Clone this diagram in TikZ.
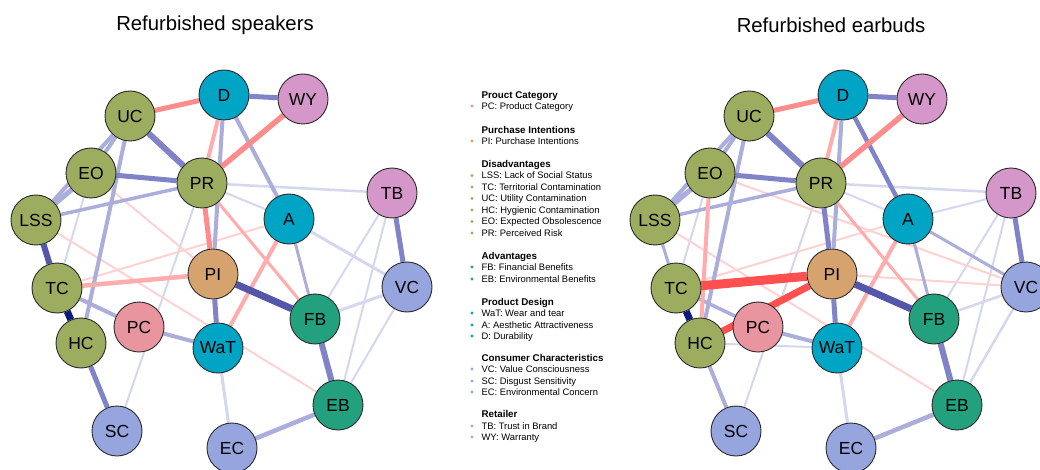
\documentclass[tikz,border=0pt]{standalone}
\usepackage{fontspec}
\setmainfont{Liberation Sans}
\usetikzlibrary{backgrounds}
\definecolor{netInk}{HTML}{2A2A2A}
\definecolor{netDis}{HTML}{9CAD60}
\definecolor{netDes}{HTML}{00A5C6}
\definecolor{netRet}{HTML}{D596C9}
\definecolor{netCon}{HTML}{97A5DF}
\definecolor{netPI}{HTML}{D6A36F}
\definecolor{netPC}{HTML}{E9959F}
\definecolor{netAdv}{HTML}{23A07D}
\definecolor{posNavy}{HTML}{0D1A80}
\definecolor{posDark}{HTML}{5456AA}
\definecolor{posMid}{HTML}{8083C8}
\definecolor{posLight}{HTML}{ABADDB}
\definecolor{posFaint}{HTML}{D5D7EF}
\definecolor{negDark}{HTML}{FF4F4F}
\definecolor{negMid}{HTML}{FF8C8C}
\definecolor{negLight}{HTML}{FFACAC}
\definecolor{negFaint}{HTML}{FFD2D2}
\tikzset{
  every picture/.style={font=\fontsize{9.4}{11}\selectfont, text=black},
  net node/.style={circle, draw=netInk, line width=0.9pt, minimum size=50pt,
    inner sep=0pt, font=\fontsize{17.5}{19}\selectfont},
  net title/.style={font=\fontsize{20.3}{23}\selectfont},
  net edge/.style={line cap=butt},
  leg head/.style={anchor=base west, font=\bfseries\fontsize{9.8}{11}\selectfont},
  leg item/.style={anchor=base west},
  leg dot/.style={circle, inner sep=0pt, minimum size=3.2pt}
}

\begin{document}
\begin{tikzpicture}[x=1pt,y=-1pt]
  \useasboundingbox (0,0) rectangle (1040,470);
  \clip (0,0) rectangle (1040,470);
  % titles
  \node[net title] (sTitle) at (215,25) {Refurbished speakers};
  \node[net title] (eTitle) at (831,25) {Refurbished earbuds};
  % nodes, same layout in both networks
  \foreach \net/\dx in {s/0,e/619}{
    \foreach \id/\x/\y/\col in {D/224/95/netDes, WY/303/99/netRet,
        UC/130/116/netDis, EO/91/173/netDis, PR/202/183/netDis,
        TB/392/193/netRet, LSS/36/220/netDis, A/289/219/netDes,
        PI/213/274/netPI, TC/57/288/netDis, VC/407/287/netCon,
        PC/139/327/netPC, FB/315/319/netAdv, HC/81/343/netDis,
        WaT/218/348/netDes, EB/338/405/netAdv, SC/117/431/netCon,
        EC/232/448/netCon}
      \node[net node, fill=\col] (\net\id) at (\x+\dx,\y) {\id};
  }
  % edges go behind the nodes
  \begin{pgfonlayer}{background}
    \fill[white] (0,0) rectangle (1040,470);
    % speakers
    \foreach \a/\b/\c/\w in {EO/TC/posFaint/2, PR/TB/posFaint/2.5,
        PR/A/posFaint/2, PR/SC/posFaint/2, A/VC/posFaint/3,
        TB/FB/posFaint/2, TB/EB/posFaint/2, VC/FB/posFaint/3,
        VC/EB/posFaint/2, WaT/EC/posFaint/3, EO/PI/negFaint/2,
        LSS/EB/negFaint/2, TC/A/negFaint/2, A/FB/posLight/3,
        LSS/PR/posLight/3.5, UC/EO/posLight/4, UC/LSS/posLight/4,
        EO/LSS/posLight/5, UC/HC/posLight/4, D/PI/posLight/4,
        D/A/posLight/4, TC/PC/posLight/4, PC/WaT/posLight/4,
        EC/EB/posLight/4.5, PR/FB/negLight/3, D/PR/negLight/4,
        TC/PI/negLight/4.5, A/WaT/negLight/4, EO/PR/posMid/5,
        HC/SC/posMid/5, PI/WaT/posMid/5, TB/VC/posMid/5,
        D/WY/posMid/5, FB/EB/posMid/6, UC/PR/posMid/6,
        UC/D/negMid/5, WY/PR/negMid/5.5, PR/PI/negMid/5,
        LSS/TC/posDark/6, PI/FB/posDark/7, TC/HC/posNavy/7}
      \draw[net edge, draw=\c, line width=\w pt] (s\a) -- (s\b);
    % earbuds
    \foreach \a/\b/\c/\w in {EO/TC/posFaint/2, PR/TB/posFaint/2.5,
        PR/A/posFaint/2, PR/SC/posFaint/2, A/TB/posFaint/2,
        HC/WaT/posFaint/2, TB/FB/posFaint/2, TB/EB/posFaint/2,
        VC/FB/posFaint/2.5, VC/EB/posFaint/2.5, WaT/EC/posFaint/3,
        EO/VC/negFaint/2, LSS/EB/negFaint/2, TC/A/negFaint/2,
        PI/VC/negFaint/2, A/FB/posLight/3, A/VC/posLight/3,
        LSS/TC/posLight/3, LSS/PR/posLight/3.5, UC/EO/posLight/4,
        UC/LSS/posLight/4, EO/LSS/posLight/5, UC/HC/posLight/4,
        D/PI/posLight/4, TC/PC/posLight/3.5, PC/WaT/posLight/4,
        HC/SC/posLight/4, EC/EB/posLight/4.5, PR/FB/negLight/3,
        D/PR/negLight/4, EO/HC/negLight/4, A/WaT/negLight/4,
        EO/PR/posMid/5, PR/PI/posMid/5, PI/WaT/posMid/5,
        TB/VC/posMid/5, D/WY/posMid/5, D/A/posMid/4.5,
        FB/EB/posMid/6, UC/PR/posMid/6, UC/D/negMid/5,
        WY/PR/negMid/5.5, HC/PI/negDark/7, TC/PI/negDark/9,
        PI/FB/posDark/7, TC/HC/posNavy/7}
      \draw[net edge, draw=\c, line width=\w pt] (e\a) -- (e\b);
  \end{pgfonlayer}
  % legend
  \foreach \y/\txt in {95/Prouct Category, 130/Purchase Intentions,
      164/Disadvantages, 256/Advantages, 302/Product Design,
      358/Consumer Characteristics, 414/Retailer}
    \node[leg head] (head\y) at (478,\y+3.5) {\txt};
  \foreach \y/\col/\txt in {106/netPC/PC: Product Category,
      141/netPI/PI: Purchase Intentions,
      175.5/netDis/LSS: Lack of Social Status,
      187/netDis/TC: Territorial Contamination,
      198.5/netDis/UC: Utility Contamination,
      210/netDis/HC: Hygienic Contamination,
      221.5/netDis/EO: Expected Obsolescence,
      233/netDis/PR: Perceived Risk,
      267/netAdv/FB: Financial Benefits,
      279/netAdv/EB: Environmental Benefits,
      313/netDes/WaT: Wear and tear,
      325/netDes/A: Aesthetic Attractiveness,
      336/netDes/D: Durability,
      369/netCon/VC: Value Consciousness,
      381/netCon/SC: Disgust Sensitivity,
      392/netCon/EC: Environmental Concern,
      426/netRet/TB: Trust in Brand,
      437/netRet/WY: Warranty}{
    \node[leg dot, fill=\col] (dot\y) at (472,\y) {};
    \node[leg item] (item\y) at (478,\y+3.5) {\txt};
  }
\end{tikzpicture}
\end{document}
